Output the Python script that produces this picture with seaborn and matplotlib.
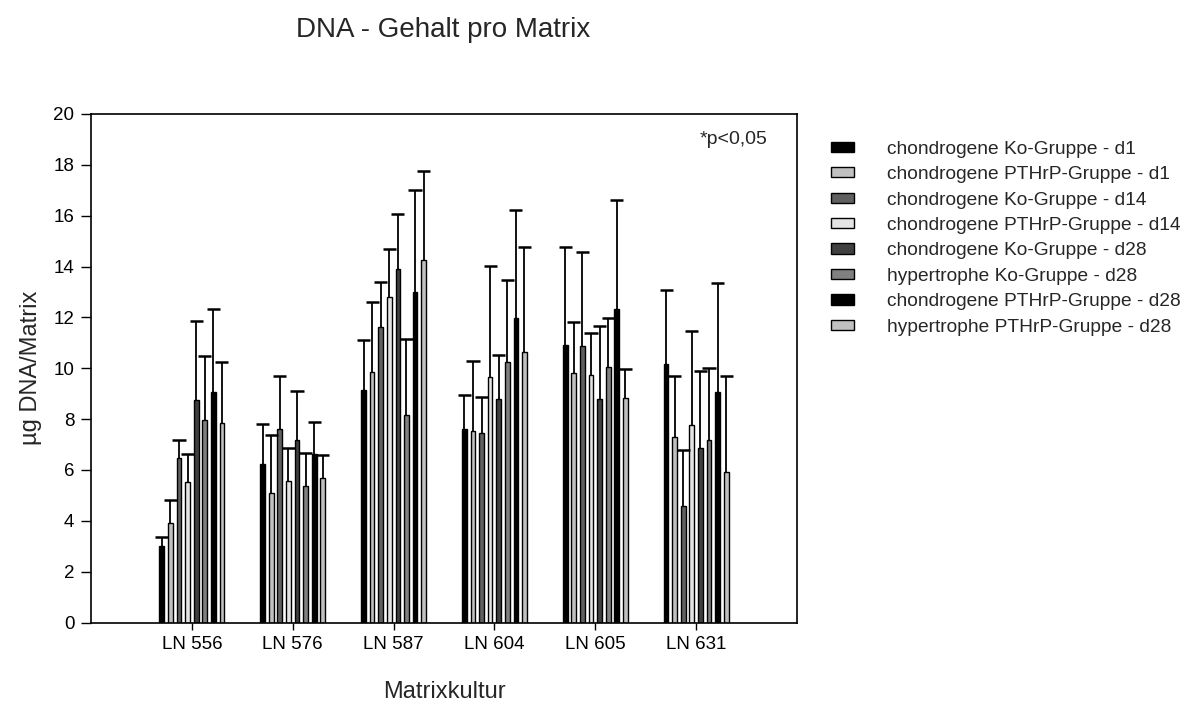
import numpy as np
import pandas as pd
import matplotlib
matplotlib.use("Agg")
import matplotlib.pyplot as plt
import seaborn as sns
from matplotlib.patches import Patch

cultures = ["LN 556", "LN 576", "LN 587", "LN 604", "LN 605", "LN 631"]
groups = [
    "chondrogene Ko-Gruppe - d1",
    "chondrogene PTHrP-Gruppe - d1",
    "chondrogene Ko-Gruppe - d14",
    "chondrogene PTHrP-Gruppe - d14",
    "chondrogene Ko-Gruppe - d28",
    "hypertrophe Ko-Gruppe - d28",
    "chondrogene PTHrP-Gruppe - d28",
    "hypertrophe PTHrP-Gruppe - d28",
]
colors = ["#000000", "#c0c0c0", "#606060", "#e4e4e4", "#404040", "#808080", "#000000", "#c0c0c0"]

# mean values per group (rows) and culture (columns)
means = [
    [2.99, 6.22, 9.15, 7.62, 10.91, 10.17],
    [3.93, 5.09, 9.84, 7.53, 9.83, 7.29],
    [6.48, 7.60, 11.63, 7.46, 10.86, 4.59],
    [5.53, 5.57, 12.80, 9.64, 9.74, 7.76],
    [8.75, 7.16, 13.91, 8.81, 8.78, 6.86],
    [7.95, 5.37, 8.15, 10.24, 10.06, 7.19],
    [9.07, 6.64, 12.99, 11.99, 12.35, 9.05],
    [7.83, 5.70, 14.25, 10.62, 8.84, 5.92],
]
# upper end of error bars
err_top = [
    [3.38, 7.80, 11.11, 8.93, 14.76, 13.07],
    [4.82, 7.37, 12.62, 10.29, 11.80, 9.69],
    [7.16, 9.70, 13.41, 8.85, 14.58, 6.80],
    [6.63, 6.86, 14.69, 14.01, 11.37, 11.48],
    [11.87, 9.10, 16.05, 10.52, 11.68, 9.88],
    [10.48, 6.68, 11.15, 13.49, 11.96, 10.01],
    [12.33, 7.88, 17.02, 16.22, 16.62, 13.37],
    [10.25, 6.58, 17.76, 14.76, 9.97, 9.71],
]

rows = []
for gi, g in enumerate(groups):
    for ci, c in enumerate(cultures):
        rows.append({"culture": c, "group": g, "value": means[gi][ci]})
df = pd.DataFrame(rows)

sns.set_style("white")
plt.rcParams["font.family"] = ["Liberation Sans", "DejaVu Sans"]

fig = plt.figure(figsize=(11.99, 7.04), dpi=100)
ax = fig.add_axes([91 / 1199, 1 - 622.5 / 704, 706 / 1199, 508.5 / 704])

sns.barplot(data=df, x="culture", y="value", hue="group", hue_order=groups,
            order=cultures, palette=colors, width=0.68, gap=0.45,
            edgecolor="black", linewidth=1.0, errorbar=None, legend=False,
            saturation=1, ax=ax)

half_cap = 0.065
for gi, cont in enumerate(ax.containers):
    for ci, bar in enumerate(cont):
        xc = bar.get_x() + bar.get_width() / 2
        y0 = bar.get_height()
        y1 = err_top[gi][ci]
        ax.vlines(xc, y0, y1, color="black", linewidth=1.3, zorder=3)
        ax.hlines(y1, xc - half_cap, xc + half_cap, color="black", linewidth=1.8, zorder=3)

ax.set_xlim(-1.0, 6.0)
ax.set_ylim(0, 20)
ax.set_yticks(np.arange(0, 21, 2))
for s in ax.spines.values():
    s.set_visible(True)
    s.set_color("black")
    s.set_linewidth(1.2)
ax.tick_params(axis="both", direction="out", width=1, colors="black",
               labelsize=13.5, left=True, bottom=True)
ax.tick_params(axis="y", length=7, pad=5)
ax.tick_params(axis="x", length=5, pad=5)
ax.set_xlabel("Matrixkultur", fontsize=17, labelpad=20)
ax.set_ylabel("µg DNA/Matrix", fontsize=17, labelpad=8)

fig.text(700 / 1199, 1 - 140 / 704, "*p<0,05", fontsize=14, ha="left", va="center")

fig.text(443 / 1199, 1 - 30 / 704, "DNA - Gehalt pro Matrix", fontsize=20,
         ha="center", va="center")

handles = [Patch(facecolor=c, edgecolor="black", linewidth=1.0) for c in colors]
fig.legend(handles, groups, loc="upper left", bbox_to_anchor=(823 / 1199, 1 - 133 / 704),
           frameon=False, fontsize=13.8, handlelength=1.2, handleheight=0.45,
           handletextpad=1.75, labelspacing=0.44, borderaxespad=0)

fig.savefig("out.png", dpi=100)
